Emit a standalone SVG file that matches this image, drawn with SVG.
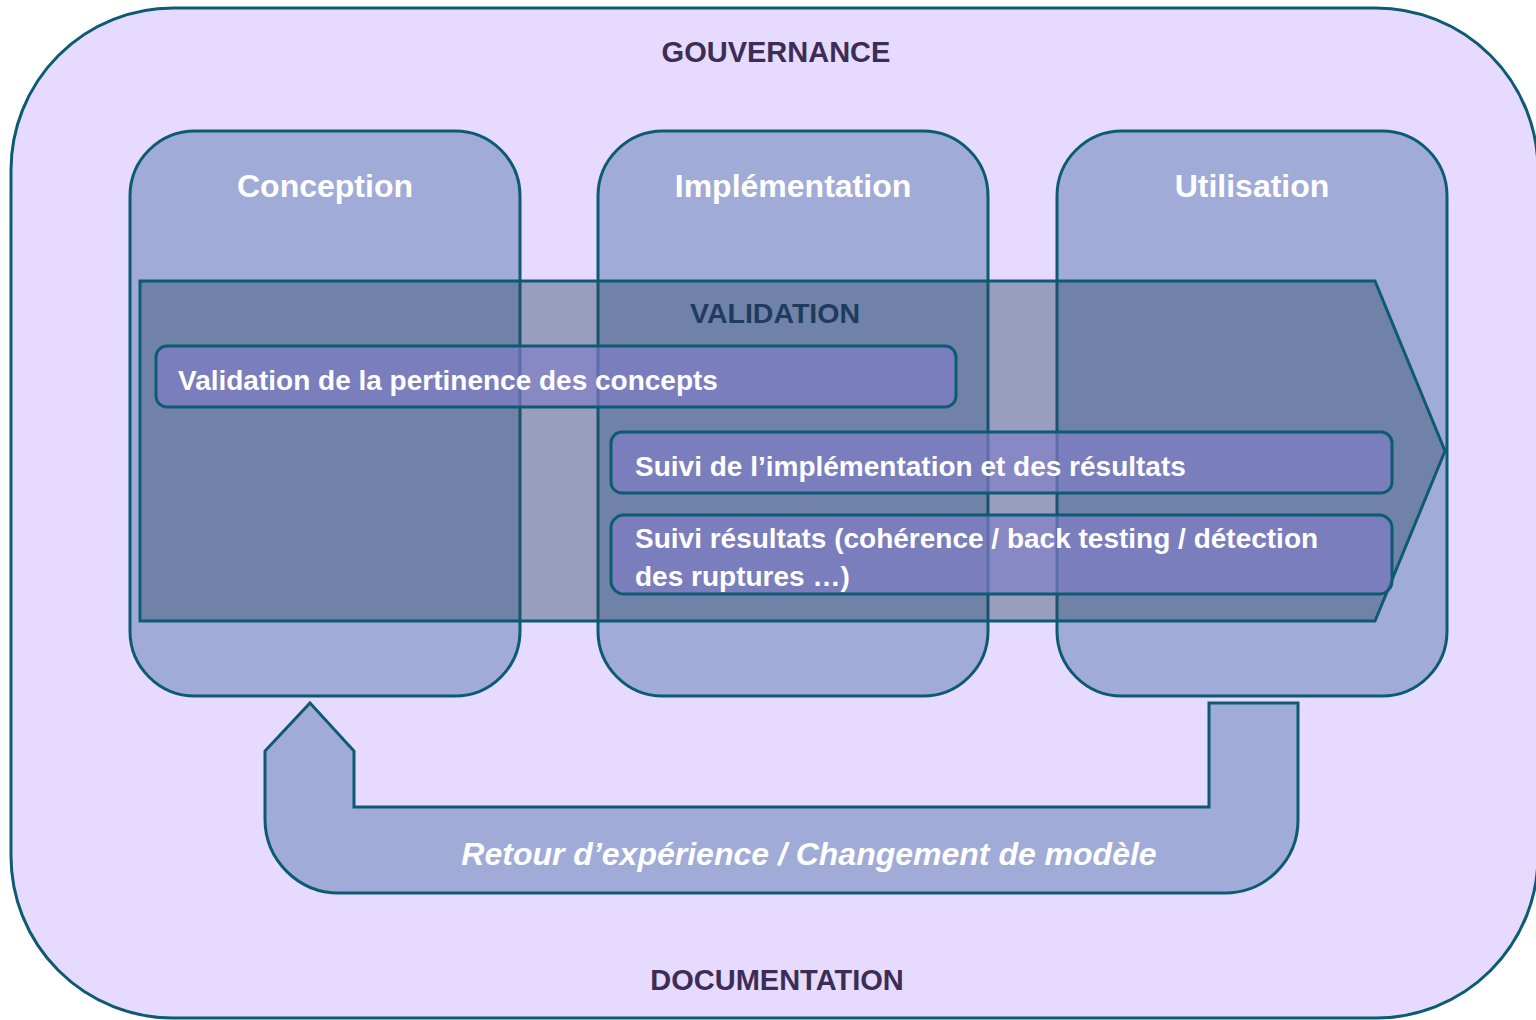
<svg xmlns="http://www.w3.org/2000/svg" width="1536" height="1020" viewBox="0 0 1536 1020">
  <style>
    .frame { fill: #e6dafe; stroke: #0d5a73; stroke-width: 3; }
    .phase { fill: #a0abd8; stroke: #0d5a73; stroke-width: 3; }
    .band { fill: #2b4963; fill-opacity: 0.41; stroke: #0d5a73; stroke-width: 3; }
    .task { fill: #7f7dc8; fill-opacity: 0.65; stroke: #0d5a73; stroke-width: 3; }
    .loop { fill: #a0abd8; stroke: #0d5a73; stroke-width: 3; }
    text { font-family: "Liberation Sans", Arial, sans-serif; font-weight: bold; }
    .outer-label { font-size: 29px; fill: #3b2d55; text-anchor: middle; }
    .phase-label { font-size: 32px; fill: #ffffff; text-anchor: middle; }
    .band-label { font-size: 28.5px; fill: #1f3c5e; text-anchor: middle; }
    .task-label { font-size: 28px; fill: #ffffff; }
    .loop-label { font-size: 32px; fill: #ffffff; font-style: italic; text-anchor: middle; }
  </style>

  <!-- governance / documentation frame -->
  <g id="frame">
    <rect class="frame" x="11" y="8" width="1527" height="1010" rx="162" ry="162"/>
    <text class="outer-label" x="776" y="62">GOUVERNANCE</text>
    <text class="outer-label" x="777" y="990">DOCUMENTATION</text>
  </g>

  <!-- lifecycle phases -->
  <g id="phase-conception">
    <rect class="phase" x="130" y="131" width="390" height="565" rx="65" ry="65"/>
    <text class="phase-label" x="325" y="197">Conception</text>
  </g>
  <g id="phase-implementation">
    <rect class="phase" x="598" y="131" width="390" height="565" rx="65" ry="65"/>
    <text class="phase-label" x="793" y="197">Implémentation</text>
  </g>
  <g id="phase-utilisation">
    <rect class="phase" x="1057" y="131" width="390" height="565" rx="65" ry="65"/>
    <text class="phase-label" x="1252" y="197">Utilisation</text>
  </g>

  <!-- validation band spanning all phases -->
  <g id="validation">
    <polygon class="band" points="140,281 1375,281 1445,451 1375,621 140,621"/>
    <text class="band-label" x="775" y="323">VALIDATION</text>
  </g>

  <g id="task-pertinence">
    <rect class="task" x="156" y="346" width="800" height="61" rx="11" ry="11"/>
    <text class="task-label" x="178" y="390">Validation de la pertinence des concepts</text>
  </g>
  <g id="task-suivi-implementation">
    <rect class="task" x="611" y="432" width="781" height="61" rx="11" ry="11"/>
    <text class="task-label" x="635" y="476">Suivi de l’implémentation et des résultats</text>
  </g>
  <g id="task-suivi-resultats">
    <rect class="task" x="611" y="515" width="781" height="79" rx="13" ry="13"/>
    <text class="task-label" x="635" y="548">Suivi résultats (cohérence / back testing / détection</text>
    <text class="task-label" x="635" y="586">des ruptures …)</text>
  </g>

  <!-- feedback loop from Utilisation back to Conception -->
  <g id="connectors">
    <path class="loop" d="M 310 703 L 354 751 L 354 807 L 1209 807 L 1209 703 L 1298 703 L 1298 820 A 73 73 0 0 1 1225 893 L 339 893 A 74 74 0 0 1 265 819 L 265 751 Z"/>
    <text class="loop-label" x="809" y="865">Retour d’expérience / Changement de modèle</text>
  </g>
</svg>
